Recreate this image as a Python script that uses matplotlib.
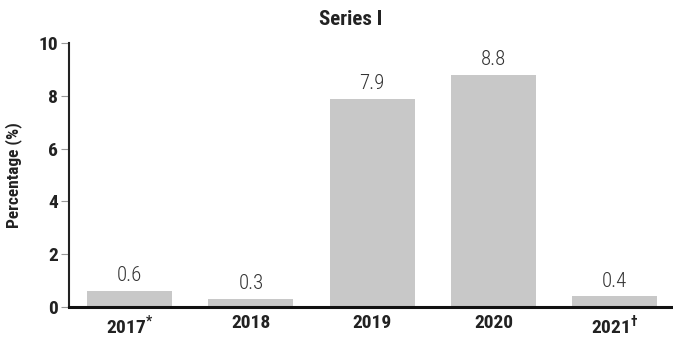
import matplotlib
matplotlib.use("Agg")
import matplotlib.pyplot as plt

plt.rcParams['font.family'] = ['Roboto Condensed', 'DejaVu Sans']
plt.rcParams['mathtext.fontset'] = 'custom'
plt.rcParams['mathtext.rm'] = 'Roboto Condensed:bold'
plt.rcParams['mathtext.bf'] = 'Roboto Condensed:bold'

# data
years = [r"2017$^{*}$", "2018", "2019", "2020", r"2021$^{\dagger}$"]
values = [0.6, 0.3, 7.9, 8.8, 0.4]
yticks = [0, 2, 4, 6, 8, 10]

fig = plt.figure(figsize=(6.73, 3.45), dpi=100)
ax = fig.add_axes([0.1025, 0.110, 0.8975, 0.765])

x = range(len(years))
bars = ax.bar(x, values, width=0.7, color="#c8c8c8")

for b, v in zip(bars, values):
    ax.text(b.get_x() + b.get_width() / 2, v + 0.22, f"{v:.1f}",
            ha="center", va="bottom", fontsize=15, fontweight="light", color="#333333")

ax.set_xlim(-0.5, 4.48)
ax.set_ylim(0, 10)
ax.set_yticks(yticks)
ax.set_xticks(list(x))
ax.set_xticklabels(years, fontweight="bold", fontsize=14, color="#222222")
ax.set_yticklabels([str(t) for t in yticks], fontweight="bold", fontsize=14, color="#222222")
ax.tick_params(axis="x", length=0, pad=5)
ax.tick_params(axis="y", length=6, color="#999999", pad=2)

ax.spines["top"].set_visible(False)
ax.spines["right"].set_visible(False)
ax.spines["left"].set_color("#222222")
ax.spines["left"].set_linewidth(1.5)
ax.spines["bottom"].set_color("#111111")
ax.spines["bottom"].set_linewidth(2.2)

ax.set_ylabel("Percentage (%)", fontweight="bold", fontsize=12.5, color="#222222", labelpad=12)
fig.text(351 / 673, 1 - 19.5 / 345, "Series I", ha="center", va="center",
         fontweight="bold", fontsize=15, color="#222222")

fig.savefig("out.png", dpi=100)
